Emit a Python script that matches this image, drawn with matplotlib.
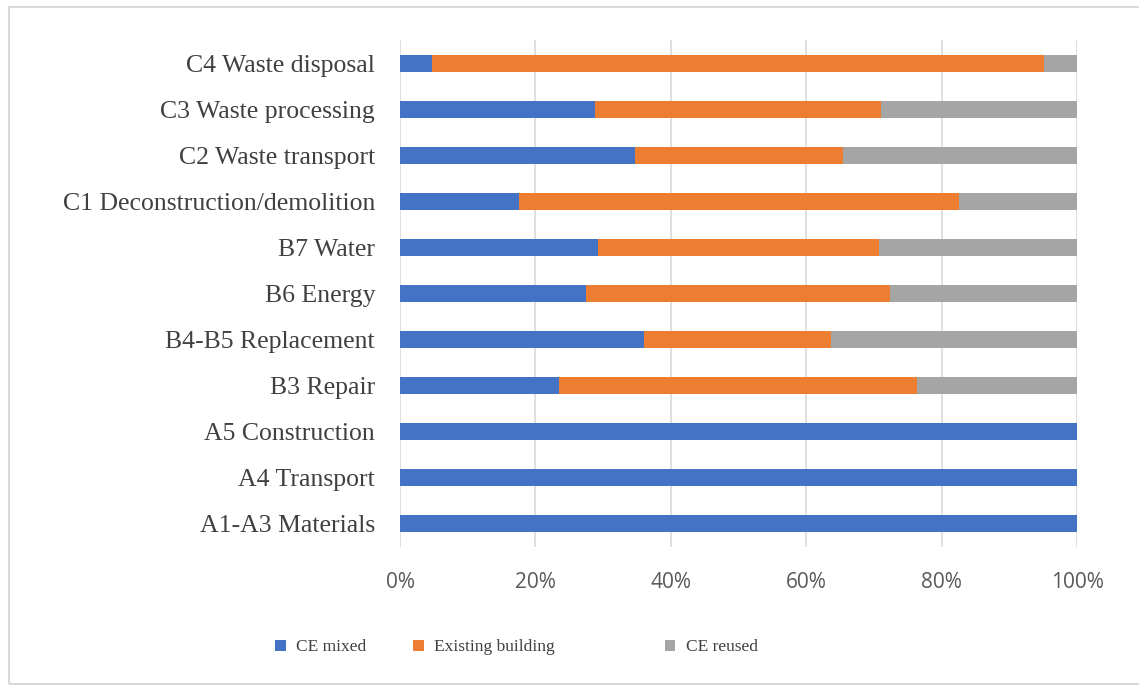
import matplotlib
matplotlib.use("Agg")
import matplotlib.pyplot as plt
from matplotlib.patches import Rectangle
from matplotlib.ticker import PercentFormatter

# life-cycle stages, bottom to top
stages = ["A1-A3 Materials", "A4 Transport", "A5 Construction", "B3 Repair",
          "B4-B5 Replacement", "B6 Energy", "B7 Water",
          "C1 Deconstruction/demolition", "C2 Waste transport",
          "C3 Waste processing", "C4 Waste disposal"]

# shares per scenario (%)
ce_mixed = [100, 100, 100, 23.5, 36.1, 27.4, 29.2, 17.6, 34.7, 28.8, 4.7]
existing_building = [0, 0, 0, 52.8, 27.5, 45.0, 41.6, 64.9, 30.8, 42.2, 90.4]
ce_reused = [0, 0, 0, 23.7, 36.4, 27.6, 29.2, 17.5, 34.5, 29.0, 4.9]

series = ["CE mixed", "Existing building", "CE reused"]
colors = ["#4472C4", "#ED7D31", "#A5A5A5"]

fig = plt.figure(figsize=(11.39, 6.85), dpi=100)
ax = fig.add_axes([0.3512, 0.2015, 0.5944, 0.7401])

y = range(len(stages))
left = [0] * len(stages)
bars = []
for name, vals, col in zip(series, [ce_mixed, existing_building, ce_reused], colors):
    bars.append(ax.barh(y, vals, left=left, height=0.37, color=col, label=name, zorder=3))
    left = [a + b for a, b in zip(left, vals)]

ax.set_xlim(0, 100)
ax.set_ylim(-0.5, len(stages) - 0.5)
ax.set_xticks(range(0, 101, 20))
ax.xaxis.set_major_formatter(PercentFormatter(decimals=0))
ax.set_yticks(list(y))
ax.set_yticklabels(stages, family="Liberation Serif", fontsize=18.5, color="#404040")
for lbl in ax.get_xticklabels():
    lbl.set_family("Open Sans")
    lbl.set_fontsize(15)
    lbl.set_color("#595959")
ax.tick_params(axis="y", length=0, pad=18)
ax.tick_params(axis="x", length=0, pad=18)
ax.grid(axis="x", color="#D9D9D9", lw=1.2, zorder=0)
for s in ax.spines.values():
    s.set_visible(False)

# one legend entry per series, spaced along the bottom
for bc, name, xpos in zip(bars, series, [0.2417, 0.3627, 0.5837]):
    fig.legend([bc], [name], loc="center left", bbox_to_anchor=(xpos, 0.055),
               frameon=False, prop={"family": "Liberation Serif", "size": 12.5},
               handlelength=0.6, handleheight=0.6, handletextpad=0.6,
               borderaxespad=0, borderpad=0, labelcolor="#404040")

# light frame round the chart area
fig.patches.append(Rectangle((9 / 1139, 1 / 685), 1.0, 677 / 685,
                             transform=fig.transFigure, fill=False,
                             edgecolor="#D9D9D9", lw=1.5))

fig.savefig("out.png", dpi=100, facecolor="white")
